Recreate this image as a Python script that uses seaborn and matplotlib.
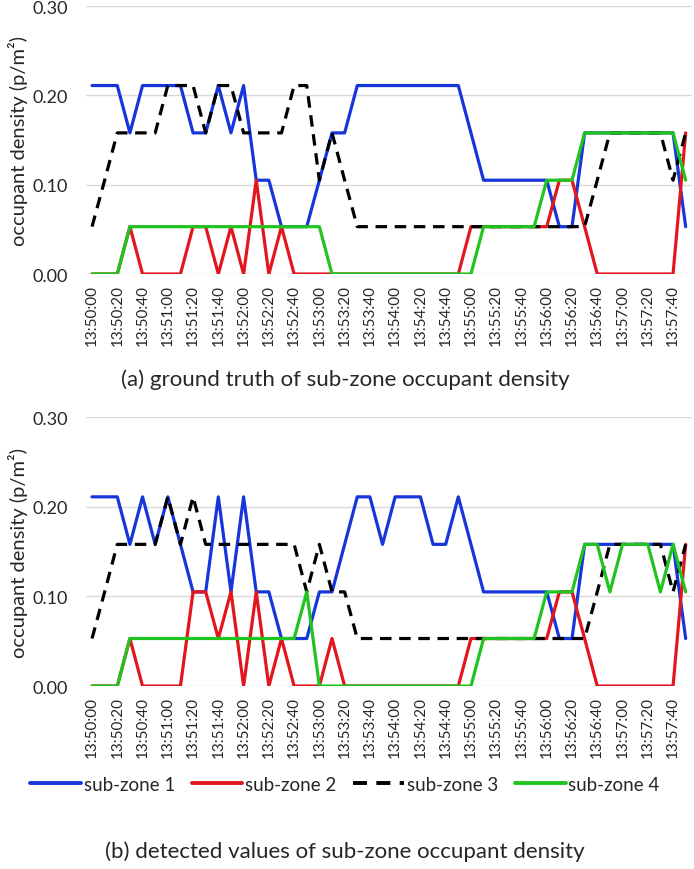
import numpy as np
import pandas as pd
import matplotlib
matplotlib.use("Agg")
import matplotlib.pyplot as plt
import seaborn as sns

# ======================================
# Data (p/m2, one sample every 10 s)
# ======================================

times = [
    "13:50:00", "13:50:10", "13:50:20", "13:50:30", "13:50:40", "13:50:50",
    "13:51:00", "13:51:10", "13:51:20", "13:51:30", "13:51:40", "13:51:50",
    "13:52:00", "13:52:10", "13:52:20", "13:52:30", "13:52:40", "13:52:50",
    "13:53:00", "13:53:10", "13:53:20", "13:53:30", "13:53:40", "13:53:50",
    "13:54:00", "13:54:10", "13:54:20", "13:54:30", "13:54:40", "13:54:50",
    "13:55:00", "13:55:10", "13:55:20", "13:55:30", "13:55:40", "13:55:50",
    "13:56:00", "13:56:10", "13:56:20", "13:56:30", "13:56:40", "13:56:50",
    "13:57:00", "13:57:10", "13:57:20", "13:57:30", "13:57:40", "13:57:50",
]

zones = ["sub-zone 1", "sub-zone 2", "sub-zone 3", "sub-zone 4"]

# (a) ground truth
gt_zone1 = [0.211, 0.211, 0.211, 0.158, 0.211, 0.211, 0.211, 0.211, 0.158, 0.158, 0.211, 0.158,
            0.211, 0.105, 0.105, 0.053, 0.053, 0.053, 0.105, 0.158, 0.158, 0.211, 0.211, 0.211,
            0.211, 0.211, 0.211, 0.211, 0.211, 0.211, 0.158, 0.105, 0.105, 0.105, 0.105, 0.105,
            0.105, 0.053, 0.053, 0.158, 0.158, 0.158, 0.158, 0.158, 0.158, 0.158, 0.158, 0.053]
gt_zone2 = [0.0, 0.0, 0.0, 0.053, 0.0, 0.0, 0.0, 0.0, 0.053, 0.053, 0.0, 0.053,
            0.0, 0.105, 0.0, 0.053, 0.0, 0.0, 0.0, 0.0, 0.0, 0.0, 0.0, 0.0,
            0.0, 0.0, 0.0, 0.0, 0.0, 0.0, 0.053, 0.053, 0.053, 0.053, 0.053, 0.053,
            0.053, 0.105, 0.105, 0.053, 0.0, 0.0, 0.0, 0.0, 0.0, 0.0, 0.0, 0.158]
gt_zone3 = [0.053, 0.105, 0.158, 0.158, 0.158, 0.158, 0.211, 0.211, 0.211, 0.158, 0.211, 0.211,
            0.158, 0.158, 0.158, 0.158, 0.211, 0.211, 0.105, 0.158, 0.105, 0.053, 0.053, 0.053,
            0.053, 0.053, 0.053, 0.053, 0.053, 0.053, 0.053, 0.053, 0.053, 0.053, 0.053, 0.053,
            0.053, 0.053, 0.053, 0.053, 0.105, 0.158, 0.158, 0.158, 0.158, 0.158, 0.105, 0.158]
gt_zone4 = [0.0, 0.0, 0.0, 0.053, 0.053, 0.053, 0.053, 0.053, 0.053, 0.053, 0.053, 0.053,
            0.053, 0.053, 0.053, 0.053, 0.053, 0.053, 0.053, 0.0, 0.0, 0.0, 0.0, 0.0,
            0.0, 0.0, 0.0, 0.0, 0.0, 0.0, 0.0, 0.053, 0.053, 0.053, 0.053, 0.053,
            0.105, 0.105, 0.105, 0.158, 0.158, 0.158, 0.158, 0.158, 0.158, 0.158, 0.158, 0.105]

# (b) detected values
det_zone1 = [0.211, 0.211, 0.211, 0.158, 0.211, 0.158, 0.211, 0.158, 0.105, 0.105, 0.211, 0.105,
             0.211, 0.105, 0.105, 0.053, 0.053, 0.053, 0.105, 0.105, 0.158, 0.211, 0.211, 0.158,
             0.211, 0.211, 0.211, 0.158, 0.158, 0.211, 0.158, 0.105, 0.105, 0.105, 0.105, 0.105,
             0.105, 0.053, 0.053, 0.158, 0.158, 0.158, 0.158, 0.158, 0.158, 0.158, 0.158, 0.053]
det_zone2 = [0.0, 0.0, 0.0, 0.053, 0.0, 0.0, 0.0, 0.0, 0.105, 0.105, 0.053, 0.105,
             0.0, 0.105, 0.0, 0.053, 0.0, 0.0, 0.0, 0.053, 0.0, 0.0, 0.0, 0.0,
             0.0, 0.0, 0.0, 0.0, 0.0, 0.0, 0.053, 0.053, 0.053, 0.053, 0.053, 0.053,
             0.053, 0.105, 0.105, 0.053, 0.0, 0.0, 0.0, 0.0, 0.0, 0.0, 0.0, 0.158]
det_zone3 = [0.053, 0.105, 0.158, 0.158, 0.158, 0.158, 0.211, 0.158, 0.211, 0.158, 0.158, 0.158,
             0.158, 0.158, 0.158, 0.158, 0.158, 0.105, 0.158, 0.105, 0.105, 0.053, 0.053, 0.053,
             0.053, 0.053, 0.053, 0.053, 0.053, 0.053, 0.053, 0.053, 0.053, 0.053, 0.053, 0.053,
             0.053, 0.053, 0.053, 0.053, 0.105, 0.158, 0.158, 0.158, 0.158, 0.158, 0.105, 0.158]
det_zone4 = [0.0, 0.0, 0.0, 0.053, 0.053, 0.053, 0.053, 0.053, 0.053, 0.053, 0.053, 0.053,
             0.053, 0.053, 0.053, 0.053, 0.053, 0.105, 0.0, 0.0, 0.0, 0.0, 0.0, 0.0,
             0.0, 0.0, 0.0, 0.0, 0.0, 0.0, 0.0, 0.053, 0.053, 0.053, 0.053, 0.053,
             0.105, 0.105, 0.105, 0.158, 0.158, 0.105, 0.158, 0.158, 0.158, 0.105, 0.158, 0.105]

yticks = [0.0, 0.1, 0.2, 0.3]

colors = {"sub-zone 1": "#1636DC", "sub-zone 2": "#E2161C",
          "sub-zone 3": "#000000", "sub-zone 4": "#1FC41F"}
dashes = {"sub-zone 1": "", "sub-zone 2": "", "sub-zone 3": (3.6, 2.4), "sub-zone 4": ""}


def long_form(series):
    frames = []
    for zone, vals in zip(zones, series):
        frames.append(pd.DataFrame({"pos": np.arange(len(times)),
                                    "density": vals, "zone": zone}))
    return pd.concat(frames, ignore_index=True)


df_gt = long_form([gt_zone1, gt_zone2, gt_zone3, gt_zone4])
df_det = long_form([det_zone1, det_zone2, det_zone3, det_zone4])

# ======================================
# Figure
# ======================================

sns.set_style("white")
plt.rcParams["font.family"] = ["Lato", "DejaVu Sans"]

fig = plt.figure(figsize=(6.94, 8.70), dpi=100)

ax1 = fig.add_axes([0.1235, 0.6839, 0.8736, 0.3080])
ax2 = fig.add_axes([0.1235, 0.2103, 0.8736, 0.3092])

for ax, df in [(ax1, df_gt), (ax2, df_det)]:

    sns.lineplot(
        data=df,
        x="pos",
        y="density",
        hue="zone",
        style="zone",
        hue_order=zones,
        style_order=zones,
        palette=colors,
        dashes=dashes,
        estimator=None,
        linewidth=2.3,
        ax=ax,
        legend=(ax is ax2)
    )

    ax.set_xlim(-0.5, len(times) - 0.5)
    ax.set_ylim(0, 0.3)
    ax.set_yticks(yticks)
    ax.set_yticklabels([f"{v:.2f}" for v in yticks], fontsize=13)
    ax.set_xticks(range(0, len(times), 2))
    ax.set_xticklabels(times[::2], rotation=90, fontsize=11)
    ax.tick_params(axis="both", length=0)
    ax.tick_params(axis="y", pad=13)
    ax.tick_params(axis="x", pad=7)

    ax.yaxis.grid(True, color="#d9d9d9", linewidth=1.0)
    ax.set_axisbelow(True)
    for s in ax.spines.values():
        s.set_visible(False)

    ax.set_xlabel("")
    ax.set_ylabel("occupant density (p/m²)", fontsize=14.5)
    ax.yaxis.set_label_coords(-0.095, 0.5)

handles, labels = ax2.get_legend_handles_labels()
ax2.get_legend().remove()

for h in handles:
    h.set_linewidth(2.8)

fig.legend(
    handles,
    labels,
    loc="center",
    bbox_to_anchor=(0.497, 0.0977),
    ncol=4,
    frameon=False,
    fontsize=13.5,
    handlelength=2.7,
    handletextpad=0.15,
    columnspacing=0.9
)

fig.text(0.497, 0.563, "(a) ground truth of sub-zone occupant density",
         ha="center", va="center", fontsize=16)
fig.text(0.497, 0.0207, "(b) detected values of sub-zone occupant density",
         ha="center", va="center", fontsize=16)

fig.savefig("out.png", dpi=100)
